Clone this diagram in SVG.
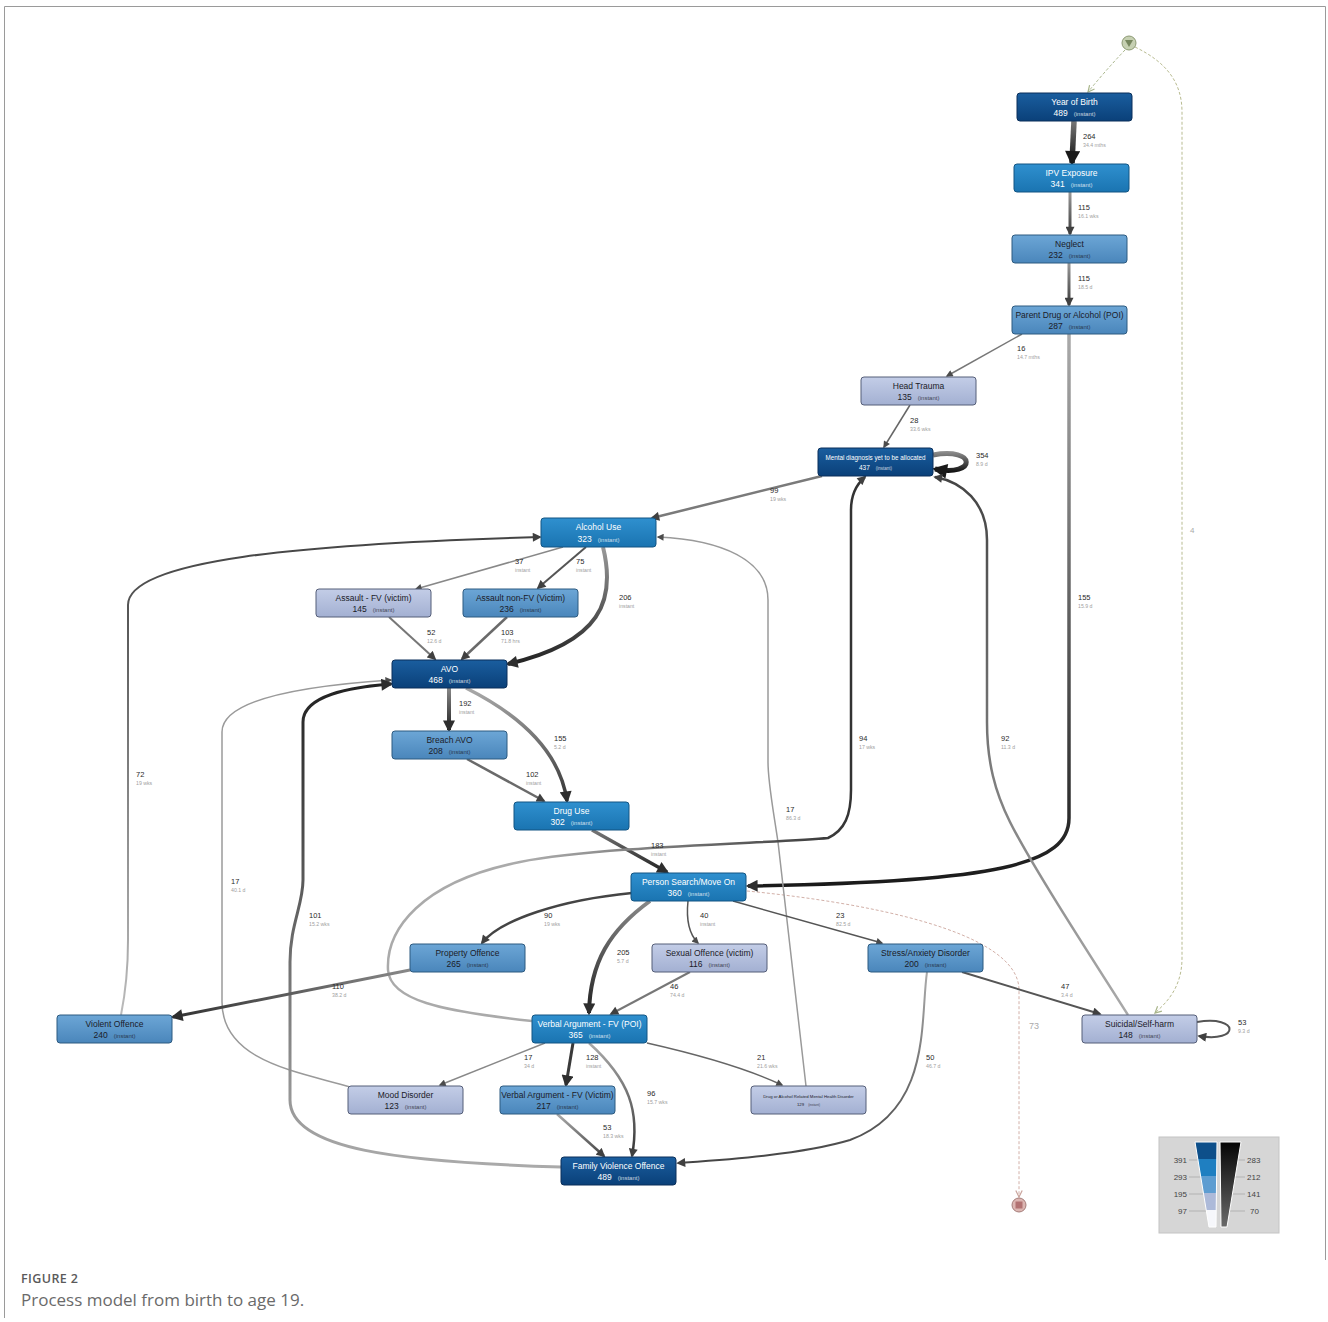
<svg xmlns="http://www.w3.org/2000/svg" width="1328" height="1322" viewBox="0 0 1328 1322">
<defs>
<style>
.nd rect{stroke-width:1}
.dk rect{fill:url(#gDk);stroke:#0a2f5a}
.md rect{fill:url(#gMd);stroke:#125583}
.lm rect{fill:url(#gLm);stroke:#2d5a80}
.pl rect{fill:url(#gPl);stroke:#555e78}
.nm{font-family:"Liberation Sans",Arial,sans-serif;font-size:8.5px;text-anchor:middle}
.dk .nm,.md .nm{fill:#ffffff}
.lm .nm,.pl .nm{fill:#1b1b28}
.in{font-size:6px;opacity:0.75}
.e{fill:none;stroke-linecap:butt}
.lb{font-family:"Liberation Sans",Arial,sans-serif;font-size:7.5px;fill:#2a2a2a}
.sl{font-family:"Liberation Sans",Arial,sans-serif;font-size:5.2px;fill:#a0a0a0}
.lg{font-family:"Liberation Sans",Arial,sans-serif;font-size:8px;fill:#444}
</style>
<linearGradient id="gDk" x1="0" y1="0" x2="0" y2="1"><stop offset="0" stop-color="#1a5e9f"/><stop offset="1" stop-color="#0a4079"/></linearGradient>
<linearGradient id="gMd" x1="0" y1="0" x2="0" y2="1"><stop offset="0" stop-color="#2f90cf"/><stop offset="1" stop-color="#1a74b1"/></linearGradient>
<linearGradient id="gLm" x1="0" y1="0" x2="0" y2="1"><stop offset="0" stop-color="#6ca6d6"/><stop offset="1" stop-color="#4a86bb"/></linearGradient>
<linearGradient id="gPl" x1="0" y1="0" x2="0" y2="1"><stop offset="0" stop-color="#c3cde7"/><stop offset="1" stop-color="#a3b0d2"/></linearGradient>
<linearGradient id="gBk" x1="0" y1="0" x2="0" y2="1"><stop offset="0" stop-color="#050505"/><stop offset="1" stop-color="#6a6a6a"/></linearGradient>
<linearGradient id="sYob" gradientUnits="userSpaceOnUse" x1="0" y1="121" x2="0" y2="163"><stop offset="0" stop-color="#777"/><stop offset="1" stop-color="#111"/></linearGradient>
<linearGradient id="sIpv" gradientUnits="userSpaceOnUse" x1="0" y1="192" x2="0" y2="234"><stop offset="0" stop-color="#999"/><stop offset="1" stop-color="#3a3a3a"/></linearGradient>
<linearGradient id="sNeg" gradientUnits="userSpaceOnUse" x1="0" y1="263" x2="0" y2="305"><stop offset="0" stop-color="#999"/><stop offset="1" stop-color="#3a3a3a"/></linearGradient>
<linearGradient id="sPar" gradientUnits="userSpaceOnUse" x1="0" y1="334" x2="0" y2="886"><stop offset="0" stop-color="#aaa"/><stop offset="0.7" stop-color="#444"/><stop offset="1" stop-color="#1a1a1a"/></linearGradient>
<linearGradient id="sAlcAvo" gradientUnits="userSpaceOnUse" x1="0" y1="547" x2="0" y2="664"><stop offset="0" stop-color="#999"/><stop offset="1" stop-color="#222"/></linearGradient>
<linearGradient id="sAvoBr" gradientUnits="userSpaceOnUse" x1="0" y1="688" x2="0" y2="730"><stop offset="0" stop-color="#888"/><stop offset="1" stop-color="#222"/></linearGradient>
<linearGradient id="sAvoDu" gradientUnits="userSpaceOnUse" x1="0" y1="688" x2="0" y2="801"><stop offset="0" stop-color="#aaa"/><stop offset="1" stop-color="#333"/></linearGradient>
<linearGradient id="sDuPs" gradientUnits="userSpaceOnUse" x1="0" y1="830" x2="0" y2="872"><stop offset="0" stop-color="#777"/><stop offset="1" stop-color="#222"/></linearGradient>
<linearGradient id="sPsV" gradientUnits="userSpaceOnUse" x1="0" y1="901" x2="0" y2="1013"><stop offset="0" stop-color="#888"/><stop offset="1" stop-color="#222"/></linearGradient>
<linearGradient id="sFvoAvo" gradientUnits="userSpaceOnUse" x1="0" y1="1167" x2="0" y2="684"><stop offset="0" stop-color="#aaa"/><stop offset="1" stop-color="#222"/></linearGradient>
<linearGradient id="sVioAlc" gradientUnits="userSpaceOnUse" x1="0" y1="1015" x2="0" y2="537"><stop offset="0" stop-color="#bbb"/><stop offset="1" stop-color="#444"/></linearGradient>
<linearGradient id="sSui" gradientUnits="userSpaceOnUse" x1="0" y1="1015" x2="0" y2="477"><stop offset="0" stop-color="#aaa"/><stop offset="1" stop-color="#444"/></linearGradient>
<linearGradient id="sVpM" gradientUnits="userSpaceOnUse" x1="532" y1="0" x2="851" y2="0"><stop offset="0" stop-color="#aaa"/><stop offset="1" stop-color="#333"/></linearGradient>
<linearGradient id="sStF" gradientUnits="userSpaceOnUse" x1="0" y1="972" x2="0" y2="1163"><stop offset="0" stop-color="#aaa"/><stop offset="1" stop-color="#444"/></linearGradient>
<linearGradient id="sVpF" gradientUnits="userSpaceOnUse" x1="0" y1="1043" x2="0" y2="1156"><stop offset="0" stop-color="#aaa"/><stop offset="1" stop-color="#333"/></linearGradient>
<linearGradient id="sVvF" gradientUnits="userSpaceOnUse" x1="0" y1="1114" x2="0" y2="1156"><stop offset="0" stop-color="#aaa"/><stop offset="1" stop-color="#444"/></linearGradient>
<linearGradient id="sPrV" gradientUnits="userSpaceOnUse" x1="410" y1="0" x2="173" y2="0"><stop offset="0" stop-color="#888"/><stop offset="1" stop-color="#333"/></linearGradient>
<linearGradient id="sLoop" gradientUnits="userSpaceOnUse" x1="0" y1="450" x2="0" y2="472"><stop offset="0" stop-color="#999"/><stop offset="1" stop-color="#111"/></linearGradient>
<marker id="aXL" viewBox="0 0 10 10" refX="8" refY="5" markerWidth="16" markerHeight="15" markerUnits="userSpaceOnUse" orient="auto"><path d="M0,0 L10,5 L0,10 z" fill="#1a1a1a"/></marker>
<marker id="aL" viewBox="0 0 10 10" refX="8" refY="5" markerWidth="13" markerHeight="12" markerUnits="userSpaceOnUse" orient="auto"><path d="M0,0 L10,5 L0,10 z" fill="#2e2e2e"/></marker>
<marker id="aM" viewBox="0 0 10 10" refX="8" refY="5" markerWidth="10" markerHeight="9" markerUnits="userSpaceOnUse" orient="auto"><path d="M0,0 L10,5 L0,10 z" fill="#404040"/></marker>
<marker id="aS" viewBox="0 0 10 10" refX="8" refY="5" markerWidth="8" markerHeight="7" markerUnits="userSpaceOnUse" orient="auto"><path d="M0,0 L10,5 L0,10 z" fill="#4c4c4c"/></marker>
<marker id="aXS" viewBox="0 0 10 10" refX="8" refY="5" markerWidth="7" markerHeight="6" markerUnits="userSpaceOnUse" orient="auto"><path d="M0,0 L10,5 L0,10 z" fill="#666"/></marker>
<marker id="aG" viewBox="0 0 10 10" refX="9" refY="5" markerWidth="8" markerHeight="8" markerUnits="userSpaceOnUse" orient="auto"><path d="M1,1 L9,5 L1,9" fill="none" stroke="#a8b58a" stroke-width="1.5"/></marker>
<marker id="aP" viewBox="0 0 10 10" refX="9" refY="5" markerWidth="8" markerHeight="8" markerUnits="userSpaceOnUse" orient="auto"><path d="M1,1 L9,5 L1,9" fill="none" stroke="#c9a39c" stroke-width="1.5"/></marker>
</defs>
<rect x="0" y="0" width="1328" height="1322" fill="#ffffff"/>
<g id="frame" fill="none" stroke="#9a9a9a" stroke-width="1">
<path d="M4.5,1318 L4.5,6.5 L1325.5,6.5 L1325.5,1260"/>
</g>

<g id="connectors">
<path class="e" d="M1125,50 Q1106,70 1088,92" stroke="#a8b58a" stroke-width="1" stroke-dasharray="3,2" marker-end="url(#aG)"/>
<path class="e" d="M1135,47 C1166,62 1182,82 1182,112 L1182,958 C1182,988 1166,1003 1155,1013" stroke="#b8bb90" stroke-width="1" stroke-dasharray="3,2" marker-end="url(#aG)"/>
<path class="e" d="M747,891 C860,902 1019,930 1019,990 L1019,1197" stroke="#d2b0a8" stroke-width="1" stroke-dasharray="3,2" marker-end="url(#aP)"/>
<path class="e" d="M1074,121 L1072,163" stroke="url(#sYob)" stroke-width="5.5" marker-end="url(#aXL)"/>
<path class="e" d="M1070,192 L1070,234" stroke="url(#sIpv)" stroke-width="3" marker-end="url(#aM)"/>
<path class="e" d="M1069,263 L1069,305" stroke="url(#sNeg)" stroke-width="3" marker-end="url(#aM)"/>
<path class="e" d="M1022,334 L947,376" stroke="#777" stroke-width="1.5" marker-end="url(#aS)"/>
<path class="e" d="M910,405 L884,447" stroke="#666" stroke-width="1.5" marker-end="url(#aS)"/>
<path class="e" d="M933,455 C977,447 977,477 935,469" stroke="url(#sLoop)" stroke-width="5" marker-end="url(#aXL)"/>
<path class="e" d="M822,476 L652,518" stroke="#7a7a7a" stroke-width="2.5" marker-end="url(#aM)"/>
<path class="e" d="M1069,334 L1069,818 C1069,864 1000,882 748,886" stroke="url(#sPar)" stroke-width="3.5" marker-end="url(#aL)"/>
<path class="e" d="M563,547 L416,589" stroke="#888" stroke-width="1.5" marker-end="url(#aS)"/>
<path class="e" d="M586,547 L538,588" stroke="#555" stroke-width="2" marker-end="url(#aM)"/>
<path class="e" d="M603,547 C616,600 602,642 508,664" stroke="url(#sAlcAvo)" stroke-width="4" marker-end="url(#aL)"/>
<path class="e" d="M389,617 L435,659" stroke="#777" stroke-width="2" marker-end="url(#aM)"/>
<path class="e" d="M507,617 L462,659" stroke="#6a6a6a" stroke-width="2.5" marker-end="url(#aM)"/>
<path class="e" d="M449,688 L449,730" stroke="url(#sAvoBr)" stroke-width="4" marker-end="url(#aL)"/>
<path class="e" d="M466,688 C522,716 560,752 567,801" stroke="url(#sAvoDu)" stroke-width="3.5" marker-end="url(#aL)"/>
<path class="e" d="M467,759 L544,801" stroke="#6a6a6a" stroke-width="2.5" marker-end="url(#aM)"/>
<path class="e" d="M592,830 L667,872" stroke="url(#sDuPs)" stroke-width="3.5" marker-end="url(#aL)"/>
<path class="e" d="M121,1015 C126,990 128,970 128,940 L128,605 C128,560 300,544 540,537" stroke="url(#sVioAlc)" stroke-width="2" marker-end="url(#aM)"/>
<path class="e" d="M350,1087 C300,1072 222,1062 222,1002 L222,732 C222,700 300,686 391,680" stroke="#9a9a9a" stroke-width="1.5" marker-end="url(#aS)"/>
<path class="e" d="M561,1167 C400,1162 290,1150 290,1100 L290,962 C290,925 303,905 303,880 L303,722 C303,696 350,687 391,684" stroke="url(#sFvoAvo)" stroke-width="3" marker-end="url(#aL)"/>
<path class="e" d="M806,1086 L778,842 C772,802 768,782 768,762 L768,600 C768,560 722,540 658,537" stroke="#9a9a9a" stroke-width="1.5" marker-end="url(#aS)"/>
<path class="e" d="M532,1021 C440,1011 390,1000 388,970 C386,930 420,882 520,862 C600,846 780,843 828,838 C845,830 851,815 851,790 L851,510 C851,492 858,483 865,477" stroke="url(#sVpM)" stroke-width="2.5" marker-end="url(#aM)"/>
<path class="e" d="M1128,1015 C1080,940 1030,862 1010,822 C995,792 987,762 987,722 L987,540 C987,502 962,482 935,477" stroke="url(#sSui)" stroke-width="2.5" marker-end="url(#aM)"/>
<path class="e" d="M632,893 C560,900 500,920 482,943" stroke="#444" stroke-width="2.5" marker-end="url(#aM)"/>
<path class="e" d="M688,901 C686,920 690,935 698,943" stroke="#555" stroke-width="1.5" marker-end="url(#aS)"/>
<path class="e" d="M733,901 L882,943" stroke="#555" stroke-width="1.5" marker-end="url(#aS)"/>
<path class="e" d="M650,901 C610,930 590,962 589,1013" stroke="url(#sPsV)" stroke-width="4" marker-end="url(#aL)"/>
<path class="e" d="M410,970 L173,1017" stroke="url(#sPrV)" stroke-width="3" marker-end="url(#aL)"/>
<path class="e" d="M690,972 L611,1014" stroke="#777" stroke-width="2" marker-end="url(#aM)"/>
<path class="e" d="M962,972 L1100,1014" stroke="#555" stroke-width="2" marker-end="url(#aM)"/>
<path class="e" d="M927,972 C920,1020 932,1110 850,1140 C800,1155 720,1160 678,1163" stroke="url(#sStF)" stroke-width="2" marker-end="url(#aM)"/>
<path class="e" d="M1197,1022 C1240,1015 1240,1043 1199,1036" stroke="#555" stroke-width="2" marker-end="url(#aM)"/>
<path class="e" d="M545,1043 L440,1085" stroke="#888" stroke-width="1.5" marker-end="url(#aS)"/>
<path class="e" d="M573,1043 L566,1085" stroke="#3a3a3a" stroke-width="3" marker-end="url(#aL)"/>
<path class="e" d="M589,1043 C630,1080 640,1112 632,1156" stroke="url(#sVpF)" stroke-width="2.5" marker-end="url(#aM)"/>
<path class="e" d="M647,1043 C700,1055 750,1070 782,1085" stroke="#666" stroke-width="1.5" marker-end="url(#aS)"/>
<path class="e" d="M557,1114 L604,1156" stroke="url(#sVvF)" stroke-width="2.5" marker-end="url(#aM)"/>
</g>

<g id="edge-labels">
<text class="lb" x="1083" y="139">264</text><text class="sl" x="1083" y="147">34.4 mths</text>
<text class="lb" x="1078" y="210">115</text><text class="sl" x="1078" y="218">16.1 wks</text>
<text class="lb" x="1078" y="281">115</text><text class="sl" x="1078" y="289">18.5 d</text>
<text class="lb" x="1017" y="351">16</text><text class="sl" x="1017" y="359">14.7 mths</text>
<text class="lb" x="910" y="423">28</text><text class="sl" x="910" y="431">33.6 wks</text>
<text class="lb" x="976" y="458">354</text><text class="sl" x="976" y="466">8.9 d</text>
<text class="lb" x="770" y="493">99</text><text class="sl" x="770" y="501">19 wks</text>
<text class="lb" x="515" y="564">37</text><text class="sl" x="515" y="572">instant</text>
<text class="lb" x="576" y="564">75</text><text class="sl" x="576" y="572">instant</text>
<text class="lb" x="619" y="600">206</text><text class="sl" x="619" y="608">instant</text>
<text class="lb" x="427" y="635">52</text><text class="sl" x="427" y="643">12.6 d</text>
<text class="lb" x="501" y="635">103</text><text class="sl" x="501" y="643">71.8 hrs</text>
<text class="lb" x="459" y="706">192</text><text class="sl" x="459" y="714">instant</text>
<text class="lb" x="554" y="741">155</text><text class="sl" x="554" y="749">5.2 d</text>
<text class="lb" x="526" y="777">102</text><text class="sl" x="526" y="785">instant</text>
<text class="lb" x="651" y="848">183</text><text class="sl" x="651" y="856">instant</text>
<text class="lb" x="1078" y="600">155</text><text class="sl" x="1078" y="608">15.9 d</text>
<text class="lb" x="136" y="777">72</text><text class="sl" x="136" y="785">19 wks</text>
<text class="lb" x="231" y="884">17</text><text class="sl" x="231" y="892">40.1 d</text>
<text class="lb" x="309" y="918">101</text><text class="sl" x="309" y="926">15.2 wks</text>
<text class="lb" x="786" y="812">17</text><text class="sl" x="786" y="820">86.3 d</text>
<text class="lb" x="859" y="741">94</text><text class="sl" x="859" y="749">17 wks</text>
<text class="lb" x="1001" y="741">92</text><text class="sl" x="1001" y="749">11.3 d</text>
<text class="lb" x="544" y="918">90</text><text class="sl" x="544" y="926">19 wks</text>
<text class="lb" x="700" y="918">40</text><text class="sl" x="700" y="926">instant</text>
<text class="lb" x="836" y="918">23</text><text class="sl" x="836" y="926">82.5 d</text>
<text class="lb" x="617" y="955">205</text><text class="sl" x="617" y="963">5.7 d</text>
<text class="lb" x="332" y="989">110</text><text class="sl" x="332" y="997">38.2 d</text>
<text class="lb" x="670" y="989">46</text><text class="sl" x="670" y="997">74.4 d</text>
<text class="lb" x="1061" y="989">47</text><text class="sl" x="1061" y="997">3.4 d</text>
<text class="lb" x="926" y="1060">50</text><text class="sl" x="926" y="1068">46.7 d</text>
<text class="lb" x="1238" y="1025">53</text><text class="sl" x="1238" y="1033">9.3 d</text>
<text class="lb" x="524" y="1060">17</text><text class="sl" x="524" y="1068">34 d</text>
<text class="lb" x="586" y="1060">128</text><text class="sl" x="586" y="1068">instant</text>
<text class="lb" x="647" y="1096">96</text><text class="sl" x="647" y="1104">15.7 wks</text>
<text class="lb" x="757" y="1060">21</text><text class="sl" x="757" y="1068">21.6 wks</text>
<text class="lb" x="603" y="1130">53</text><text class="sl" x="603" y="1138">18.3 wks</text>
<text x="1190" y="533" font-family="Liberation Sans, Arial, sans-serif" font-size="8" fill="#aaa">4</text>
<text x="1029" y="1029" font-family="Liberation Sans, Arial, sans-serif" font-size="9" fill="#aaa">73</text>
</g>

<g id="start"><circle cx="1129" cy="43" r="7" fill="#c6d0b2" stroke="#8d9a74" stroke-width="1"/><path d="M1125,40 L1133,40 L1129,47 z" fill="#76865e"/></g>
<g id="end"><circle cx="1019" cy="1205" r="7" fill="#dcb6b2" stroke="#a57d7a" stroke-width="1"/><rect x="1015.5" y="1201.5" width="7" height="7" fill="#b27272"/></g>

<g id="n-yob" class="nd dk"><rect x="1017" y="93" width="115" height="28" rx="3"/><text class="nm" x="1074.5" y="105">Year of Birth</text><text class="nm" x="1074.5" y="116">489<tspan class="in" dx="6">(instant)</tspan></text></g>
<g id="n-ipv" class="nd md"><rect x="1014" y="164" width="115" height="28" rx="3"/><text class="nm" x="1071.5" y="176">IPV Exposure</text><text class="nm" x="1071.5" y="187">341<tspan class="in" dx="6">(instant)</tspan></text></g>
<g id="n-neglect" class="nd lm"><rect x="1012" y="235" width="115" height="28" rx="3"/><text class="nm" x="1069.5" y="247">Neglect</text><text class="nm" x="1069.5" y="258">232<tspan class="in" dx="6">(instant)</tspan></text></g>
<g id="n-parent" class="nd lm"><rect x="1012" y="306" width="115" height="28" rx="3"/><text class="nm" x="1069.5" y="318">Parent Drug or Alcohol (POI)</text><text class="nm" x="1069.5" y="329">287<tspan class="in" dx="6">(instant)</tspan></text></g>
<g id="n-head" class="nd pl"><rect x="861" y="377" width="115" height="28" rx="3"/><text class="nm" x="918.5" y="389">Head Trauma</text><text class="nm" x="918.5" y="400">135<tspan class="in" dx="6">(instant)</tspan></text></g>
<g id="n-mental" class="nd dk"><rect x="818" y="448" width="115" height="28" rx="3"/><text class="nm" x="875.5" y="460" style="font-size:6.3px">Mental diagnosis yet to be allocated</text><text class="nm" x="875.5" y="470" style="font-size:6.5px">437<tspan class="in" dx="6" style="font-size:4.5px">(instant)</tspan></text></g>
<g id="n-alcohol" class="nd md"><rect x="541" y="518" width="115" height="29" rx="3"/><text class="nm" x="598.5" y="530">Alcohol Use</text><text class="nm" x="598.5" y="542">323<tspan class="in" dx="6">(instant)</tspan></text></g>
<g id="n-afv" class="nd pl"><rect x="316" y="589" width="115" height="28" rx="3"/><text class="nm" x="373.5" y="601">Assault - FV (victim)</text><text class="nm" x="373.5" y="612">145<tspan class="in" dx="6">(instant)</tspan></text></g>
<g id="n-anfv" class="nd lm"><rect x="463" y="589" width="115" height="28" rx="3"/><text class="nm" x="520.5" y="601">Assault non-FV (Victim)</text><text class="nm" x="520.5" y="612">236<tspan class="in" dx="6">(instant)</tspan></text></g>
<g id="n-avo" class="nd dk"><rect x="392" y="660" width="115" height="28" rx="3"/><text class="nm" x="449.5" y="672">AVO</text><text class="nm" x="449.5" y="683">468<tspan class="in" dx="6">(instant)</tspan></text></g>
<g id="n-breach" class="nd lm"><rect x="392" y="731" width="115" height="28" rx="3"/><text class="nm" x="449.5" y="743">Breach AVO</text><text class="nm" x="449.5" y="754">208<tspan class="in" dx="6">(instant)</tspan></text></g>
<g id="n-drug" class="nd md"><rect x="514" y="802" width="115" height="28" rx="3"/><text class="nm" x="571.5" y="814">Drug Use</text><text class="nm" x="571.5" y="825">302<tspan class="in" dx="6">(instant)</tspan></text></g>
<g id="n-person" class="nd md"><rect x="631" y="873" width="115" height="28" rx="3"/><text class="nm" x="688.5" y="885">Person Search/Move On</text><text class="nm" x="688.5" y="896">360<tspan class="in" dx="6">(instant)</tspan></text></g>
<g id="n-property" class="nd lm"><rect x="410" y="944" width="115" height="28" rx="3"/><text class="nm" x="467.5" y="956">Property Offence</text><text class="nm" x="467.5" y="967">265<tspan class="in" dx="6">(instant)</tspan></text></g>
<g id="n-sexual" class="nd pl"><rect x="652" y="944" width="115" height="28" rx="3"/><text class="nm" x="709.5" y="956">Sexual Offence (victim)</text><text class="nm" x="709.5" y="967">116<tspan class="in" dx="6">(instant)</tspan></text></g>
<g id="n-stress" class="nd lm"><rect x="868" y="944" width="115" height="28" rx="3"/><text class="nm" x="925.5" y="956">Stress/Anxiety Disorder</text><text class="nm" x="925.5" y="967">200<tspan class="in" dx="6">(instant)</tspan></text></g>
<g id="n-violent" class="nd lm"><rect x="57" y="1015" width="115" height="28" rx="3"/><text class="nm" x="114.5" y="1027">Violent Offence</text><text class="nm" x="114.5" y="1038">240<tspan class="in" dx="6">(instant)</tspan></text></g>
<g id="n-vpoi" class="nd md"><rect x="532" y="1015" width="115" height="28" rx="3"/><text class="nm" x="589.5" y="1027">Verbal Argument - FV (POI)</text><text class="nm" x="589.5" y="1038">365<tspan class="in" dx="6">(instant)</tspan></text></g>
<g id="n-suicidal" class="nd pl"><rect x="1082" y="1015" width="115" height="28" rx="3"/><text class="nm" x="1139.5" y="1027">Suicidal/Self-harm</text><text class="nm" x="1139.5" y="1038">148<tspan class="in" dx="6">(instant)</tspan></text></g>
<g id="n-mood" class="nd pl"><rect x="348" y="1086" width="115" height="28" rx="3"/><text class="nm" x="405.5" y="1098">Mood Disorder</text><text class="nm" x="405.5" y="1109">123<tspan class="in" dx="6">(instant)</tspan></text></g>
<g id="n-vvic" class="nd lm"><rect x="500" y="1086" width="115" height="28" rx="3"/><text class="nm" x="557.5" y="1098">Verbal Argument - FV (Victim)</text><text class="nm" x="557.5" y="1109">217<tspan class="in" dx="6">(instant)</tspan></text></g>
<g id="n-dam" class="nd pl"><rect x="751" y="1086" width="115" height="28" rx="3"/><text class="nm" x="808.5" y="1098" style="font-size:4.3px">Drug or Alcohol Related Mental Health Disorder</text><text class="nm" x="808.5" y="1106" style="font-size:4.3px">129<tspan class="in" dx="4" style="font-size:3.3px">(instant)</tspan></text></g>
<g id="n-fvo" class="nd dk"><rect x="561" y="1157" width="115" height="28" rx="3"/><text class="nm" x="618.5" y="1169">Family Violence Offence</text><text class="nm" x="618.5" y="1180">489<tspan class="in" dx="6">(instant)</tspan></text></g>

<g id="legend">
<rect x="1159" y="1137" width="120" height="96" fill="#d6d6d6" stroke="#c4c4c4"/>
<g stroke="#9a9a9a" stroke-width="0.6"><line x1="1189" y1="1160" x2="1198" y2="1160"/><line x1="1189" y1="1177" x2="1201" y2="1177"/><line x1="1189" y1="1194" x2="1204" y2="1194"/><line x1="1189" y1="1211" x2="1207" y2="1211"/><line x1="1234" y1="1160" x2="1245" y2="1160"/><line x1="1231" y1="1177" x2="1245" y2="1177"/><line x1="1229" y1="1194" x2="1245" y2="1194"/><line x1="1227" y1="1211" x2="1245" y2="1211"/></g>
<polygon points="1195,1142 1217,1142 1216.8,1159 1197.8,1159" fill="#0d4f8a"/>
<polygon points="1197.8,1159 1216.8,1159 1216.6,1176 1200.6,1176" fill="#1f7fc1"/>
<polygon points="1200.6,1176 1216.6,1176 1216.4,1193 1203.4,1193" fill="#5e9dd1"/>
<polygon points="1203.4,1193 1216.4,1193 1216.2,1210 1206.2,1210" fill="#adbad9"/>
<polygon points="1206.2,1210 1216.2,1210 1216,1227 1209,1227" fill="#f6f7fb"/>
<polygon points="1195,1142 1217,1142 1216,1227 1209,1227" fill="none" stroke="#ffffff" stroke-width="1"/>
<polygon points="1220,1142 1241,1142 1227,1227 1221,1227" fill="url(#gBk)" stroke="#ffffff" stroke-width="1"/>
<text class="lg" x="1187" y="1163" text-anchor="end">391</text>
<text class="lg" x="1187" y="1180" text-anchor="end">293</text>
<text class="lg" x="1187" y="1197" text-anchor="end">195</text>
<text class="lg" x="1187" y="1214" text-anchor="end">97</text>
<text class="lg" x="1247" y="1163">283</text>
<text class="lg" x="1247" y="1180">212</text>
<text class="lg" x="1247" y="1197">141</text>
<text class="lg" x="1250" y="1214">70</text>
</g>

<g id="caption">
<text x="21" y="1283" font-family="Open Sans, Liberation Sans, sans-serif" font-size="12.5" font-weight="600" fill="#5a5a5a" letter-spacing="0.4">FIGURE 2</text>
<text x="21" y="1306" font-family="Open Sans, Liberation Sans, sans-serif" font-size="17" fill="#6a6a6a">Process model from birth to age 19.</text>
</g>
</svg>
